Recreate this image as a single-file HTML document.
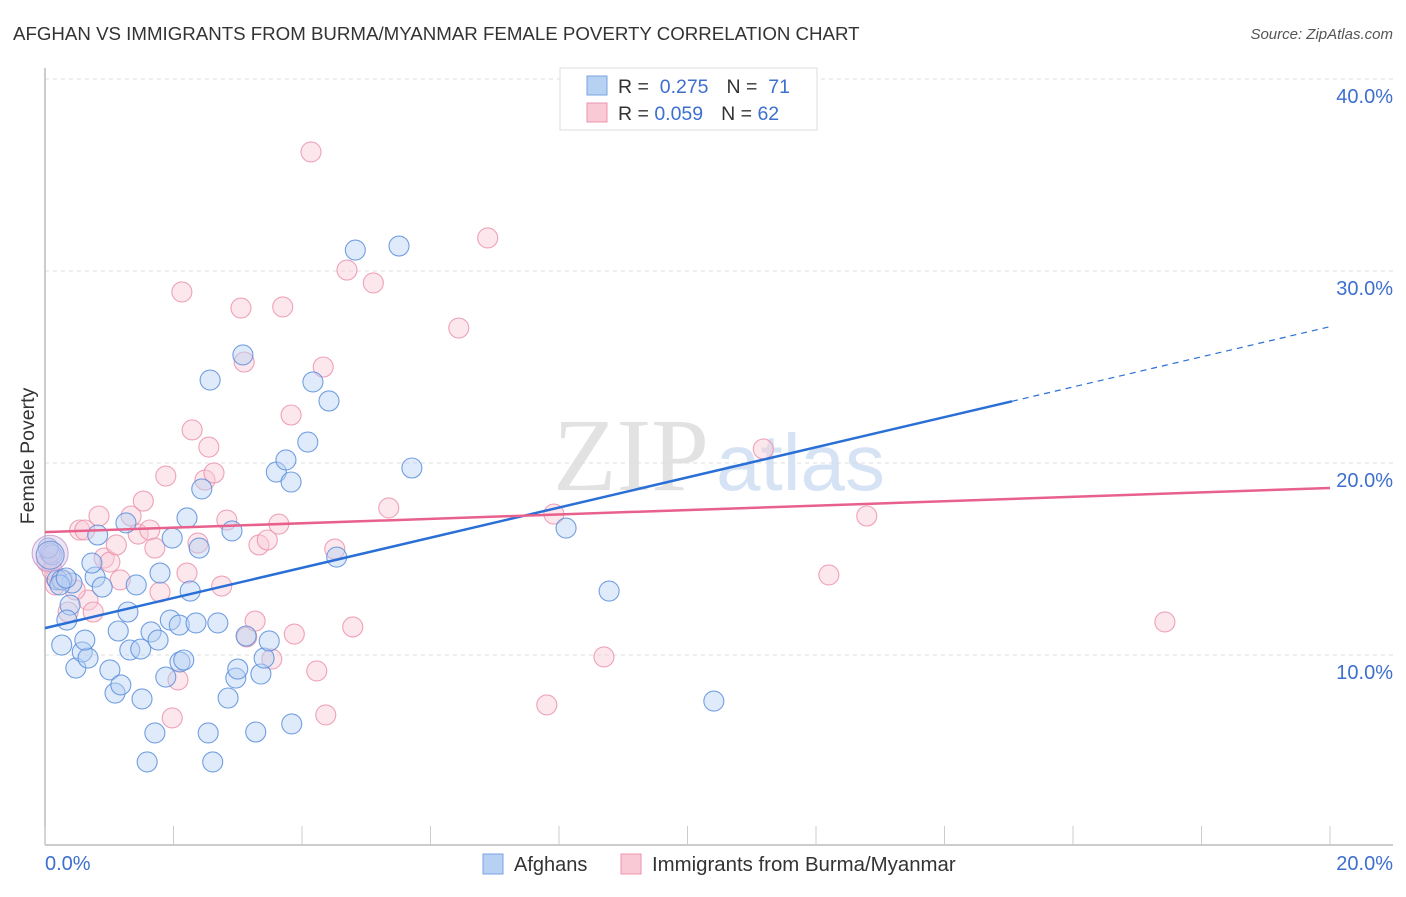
<!DOCTYPE html>
<html><head><meta charset="utf-8"><style>
body{margin:0;background:#fff;font-family:"Liberation Sans",sans-serif;}
svg text{font-family:"Liberation Sans",sans-serif;}
</style></head><body>
<svg id="chart" width="1406" height="892" viewBox="0 0 1406 892" xmlns="http://www.w3.org/2000/svg">
<text x="13" y="40" font-size="18.7" fill="#333">AFGHAN VS IMMIGRANTS FROM BURMA/MYANMAR FEMALE POVERTY CORRELATION CHART</text>
<text x="1393" y="39" font-size="15" fill="#555" font-style="italic" text-anchor="end">Source: ZipAtlas.com</text>
<g>
<text x="553" y="490" font-size="104" fill="#e2e2e2" font-family="Liberation Serif, serif" style="font-family:'Liberation Serif',serif">ZIP</text>
<text x="716" y="490" font-size="80" fill="#d6e3f5">atlas</text>
</g>
<g id="grid"></g>
<g id="axes"></g>
<g id="marks"></g>
<text transform="translate(34,456) rotate(-90)" font-size="19.5" fill="#333" text-anchor="middle">Female Poverty</text>
<text x="45" y="870" font-size="20" fill="#3d6fcf">0.0%</text>
<text x="1393" y="870" font-size="20" fill="#3d6fcf" text-anchor="end">20.0%</text>
<g>
<rect x="560" y="68" width="257" height="62" fill="#fff" stroke="#ddd"/>
<rect x="587" y="76" width="20" height="19" fill="#b7d1f3" stroke="#7aa3e0"/>
<rect x="587" y="103" width="20" height="19" fill="#f9c9d6" stroke="#eb93ad"/>
<text x="618" y="93" font-size="19.5" fill="#333">R = <tspan fill="#3d6fcf">&#160;0.275</tspan><tspan dx="18">N = </tspan><tspan fill="#3d6fcf">&#160;71</tspan></text>
<text x="618" y="120" font-size="19.5" fill="#333">R = <tspan fill="#3d6fcf">0.059</tspan><tspan dx="18">N = </tspan><tspan fill="#3d6fcf">62</tspan></text>
</g>
<g>
<rect x="483" y="854" width="20" height="20" fill="#b7d1f3" stroke="#7aa3e0"/>
<text x="514" y="871" font-size="20" fill="#333">Afghans</text>
<rect x="621" y="854" width="20" height="20" fill="#f9c9d6" stroke="#eb93ad"/>
<text x="652" y="871" font-size="20.4" fill="#333">Immigrants from Burma/Myanmar</text>
</g>
</svg>
<script>
const yTicks = [10, 20, 30, 40];
const yTickLabels = ["10.0%", "20.0%", "30.0%", "40.0%"];
const afghanX = [0.08,0.11,0.19,0.42,0.26,0.39,0.34,0.26,0.48,0.58,0.67,0.62,0.78,0.82,0.73,0.89,1.01,1.09,1.14,1.18,1.29,1.26,1.42,1.32,1.49,1.51,1.59,1.65,1.71,1.76,1.79,1.88,1.95,1.98,2.09,2.10,2.16,2.21,2.26,2.35,2.40,2.44,2.54,2.57,2.61,2.69,2.85,2.91,2.97,3.00,3.08,3.13,3.28,3.36,3.41,3.49,3.60,3.75,3.83,3.84,4.09,4.17,4.42,4.54,4.83,5.51,5.71,8.11,8.78,10.41,0.05,0.23,0.33];
const afghanY = [15.31,15.21,13.91,13.75,13.91,12.60,11.82,10.52,9.32,10.16,9.84,10.78,14.06,16.25,14.79,13.54,9.22,8.02,11.25,8.44,12.24,16.88,13.65,10.26,10.31,7.71,4.43,11.20,5.94,10.78,14.27,8.85,11.82,16.09,11.56,9.64,9.74,17.14,13.33,11.67,15.57,18.65,5.94,24.32,4.43,11.67,7.76,16.46,8.80,9.27,25.63,10.99,5.99,9.01,9.84,10.73,19.53,20.16,19.01,6.41,21.09,24.22,23.23,15.10,31.09,31.30,19.74,16.61,13.33,7.60,15.57,13.65,14.01];
const burmaX = [0.16,0.28,0.36,0.54,0.62,0.67,0.75,0.84,0.92,1.01,1.11,1.17,1.34,1.45,1.53,1.63,1.71,1.79,1.88,2.07,2.13,2.21,2.29,2.38,2.49,2.55,2.63,2.75,2.83,3.05,3.10,3.14,3.27,3.33,3.46,3.53,3.64,3.70,3.83,3.88,4.14,4.23,4.33,4.37,4.51,4.70,4.79,5.11,5.35,6.44,6.89,7.81,7.92,8.70,11.18,12.20,12.79,17.43,1.98,0.17,0.03,0.11,0.47];
const burmaY = [13.65,13.91,12.24,16.51,16.51,12.86,12.24,17.24,15.05,14.84,15.73,13.91,17.24,16.30,18.02,16.51,15.57,13.28,19.32,8.70,28.91,14.27,21.72,15.83,19.11,20.83,19.48,13.59,17.03,28.07,25.26,10.94,11.77,15.73,15.99,9.79,16.82,28.13,22.50,11.09,36.20,9.17,25.00,6.88,15.52,30.05,11.46,29.38,17.66,27.03,31.72,7.40,17.34,9.90,20.73,14.17,17.24,11.72,6.72,14.01,14.84,14.43,13.39];
const bigX = [0.08, 0.08];
const bigY = [15.3, 15.2];
const afghanTrend = [11.4, 27.1];
const burmaTrend = [16.4, 18.7];
const afghanSolidEnd = 15.05;

const NS = "http://www.w3.org/2000/svg";
const X0 = 45, X1 = 1330, YB = 847, PX_PER_PCT_Y = 19.2;
function sx(v){ return X0 + v / 20 * (X1 - X0); }
function sy(v){ return YB - v * PX_PER_PCT_Y; }
function mk(tag, attrs, parent){
  const e = document.createElementNS(NS, tag);
  for (const k in attrs) e.setAttribute(k, attrs[k]);
  parent.appendChild(e);
  return e;
}
const grid = document.getElementById('grid');
const axes = document.getElementById('axes');
const marks = document.getElementById('marks');
yTicks.forEach((t, i) => {
  const l = mk('line', {x1: X0, x2: 1393, y1: sy(t), y2: sy(t), stroke: '#ddd', 'stroke-dasharray': '4,4'}, grid);
  
  
  const tx = mk('text', {x: 1393, y: sy(t) + 24, 'font-size': 20, fill: '#3d6fcf', 'text-anchor': 'end'}, grid);
  tx.textContent = yTickLabels[i];
  
  
});
const ya = mk('line', {x1: X0, x2: X0, y1: 68, y2: 845, stroke: '#bbb', 'stroke-width': 1.5}, axes);


const xa = mk('line', {x1: X0, x2: 1393, y1: 845, y2: 845, stroke: '#bbb', 'stroke-width': 1.5}, axes);


for (let i = 0; i <= 10; i++) {
  const t = mk('line', {x1: sx(i*2), x2: sx(i*2), y1: 826, y2: 845, stroke: '#ccc'}, axes);
  
  
}
function dot(x, y, r, fill, stroke, name){
  const c = mk('circle', {cx: sx(x), cy: sy(y), r: r, fill: fill, 'fill-opacity': 0.45, stroke: stroke, 'stroke-width': 1.1, 'stroke-opacity': 0.85}, marks);
  
  
}
burmaX.forEach((x, i) => dot(x, burmaY[i], 10, '#f9c9d6', '#eb93ad', 'burma-point'));
afghanX.forEach((x, i) => dot(x, afghanY[i], 10, '#b7d1f3', '#5a8fdc', 'afghan-point'));
dot(bigX[0], bigY[0], 18, '#d8c6e6', '#c79ad0', 'burma-point-large');
dot(bigX[1], bigY[1], 14, '#b7c6ee', '#6a8fd8', 'afghan-point-large');
function trendY(arr, x){ return arr[0] + (arr[1] - arr[0]) * x / 20; }
const bl = mk('line', {x1: sx(0), y1: sy(trendY(afghanTrend, 0)), x2: sx(afghanSolidEnd), y2: sy(trendY(afghanTrend, afghanSolidEnd)), stroke: '#2a6fd6', 'stroke-width': 2.5}, marks);


const bd = mk('line', {x1: sx(afghanSolidEnd), y1: sy(trendY(afghanTrend, afghanSolidEnd)), x2: sx(20), y2: sy(trendY(afghanTrend, 20)), stroke: '#2a6fd6', 'stroke-width': 1.2, 'stroke-dasharray': '6,5'}, marks);


const pl = mk('line', {x1: sx(0), y1: sy(burmaTrend[0]), x2: sx(20), y2: sy(burmaTrend[1]), stroke: '#e8608c', 'stroke-width': 2.5}, marks);


</script>
</body></html>
